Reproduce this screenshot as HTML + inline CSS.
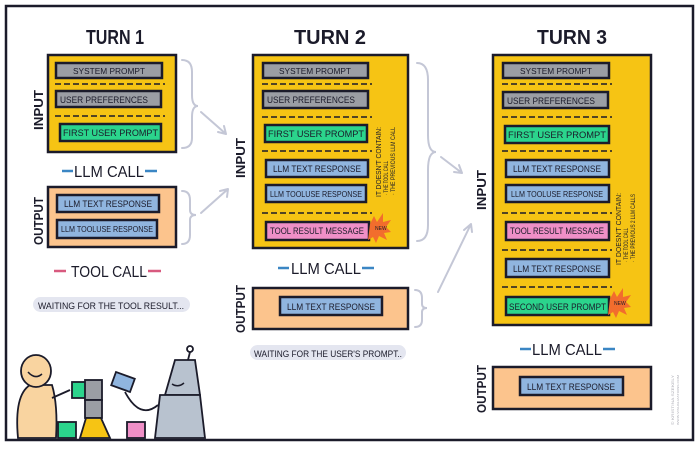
<!DOCTYPE html>
<html><head><meta charset="utf-8"><style>
html,body{margin:0;padding:0;background:#fff;}
svg{display:block;}
text{font-family:"Liberation Sans",sans-serif;fill:#1b1b2a;}
</style></head><body>
<svg width="700" height="449" viewBox="0 0 700 449" xmlns="http://www.w3.org/2000/svg">
<rect x="0" y="0" width="700" height="449" fill="#fff"/>
<rect x="6" y="6" width="687" height="434" fill="none" stroke="#1b1b2a" stroke-width="2.5"/>

<!-- titles -->
<g font-weight="bold">
<text x="115" y="44" font-size="20" text-anchor="middle" textLength="58" lengthAdjust="spacingAndGlyphs">TURN 1</text>
<text x="330" y="44" font-size="20" text-anchor="middle" textLength="72" lengthAdjust="spacingAndGlyphs">TURN 2</text>
<text x="572" y="44" font-size="20" text-anchor="middle" textLength="70" lengthAdjust="spacingAndGlyphs">TURN 3</text>
</g>

<g font-size="9.5" font-weight="normal">
<!-- TURN 1 input -->
<rect x="48" y="55" width="128" height="97" fill="#f6c414" stroke="#1b1b2a" stroke-width="2.5"/>
<rect x="56" y="63" width="106" height="15" fill="#9b9ea4" stroke="#1b1b2a" stroke-width="2.5"/>
<text x="109" y="74" text-anchor="middle" font-size="8" textLength="72" lengthAdjust="spacingAndGlyphs">SYSTEM PROMPT</text>
<line x1="55" y1="84" x2="165" y2="84" stroke="#1b1b2a" stroke-width="1.5" stroke-dasharray="6,3"/>
<rect x="56" y="91" width="105" height="16" fill="#9b9ea4" stroke="#1b1b2a" stroke-width="2.5"/>
<text x="60" y="103" textLength="88" lengthAdjust="spacingAndGlyphs">USER PREFERENCES</text>
<line x1="55" y1="116" x2="165" y2="116" stroke="#1b1b2a" stroke-width="1.5" stroke-dasharray="6,3"/>
<rect x="60" y="124" width="101" height="17" fill="#2bd48c" stroke="#1b1b2a" stroke-width="2.5"/>
<text x="63" y="136" textLength="95" lengthAdjust="spacingAndGlyphs">FIRST USER PROMPT</text>

<text x="109" y="177" font-size="16" text-anchor="middle" textLength="70" lengthAdjust="spacingAndGlyphs">LLM CALL</text>
<line x1="62" y1="171" x2="73" y2="171" stroke="#3b86c4" stroke-width="2.5"/>
<line x1="145" y1="171" x2="157" y2="171" stroke="#3b86c4" stroke-width="2.5"/>

<rect x="48" y="187" width="128" height="60" fill="#fcc48d" stroke="#1b1b2a" stroke-width="2.5"/>
<rect x="57" y="195" width="102" height="17" fill="#90b5df" stroke="#1b1b2a" stroke-width="2.5"/>
<text x="108" y="207" text-anchor="middle" textLength="88" lengthAdjust="spacingAndGlyphs">LLM TEXT RESPONSE</text>
<rect x="57" y="220" width="100" height="18" fill="#90b5df" stroke="#1b1b2a" stroke-width="2.5"/>
<text x="107" y="232" text-anchor="middle" font-size="8.5" textLength="92" lengthAdjust="spacingAndGlyphs">LLM TOOLUSE RESPONSE</text>

<text x="109" y="277" font-size="16" text-anchor="middle" textLength="76" lengthAdjust="spacingAndGlyphs">TOOL CALL</text>
<line x1="54" y1="271" x2="66" y2="271" stroke="#d85a7f" stroke-width="2.5"/>
<line x1="148" y1="271" x2="161" y2="271" stroke="#d85a7f" stroke-width="2.5"/>

<rect x="33" y="297" width="157" height="15" rx="7.5" fill="#e4e6f0"/>
<text x="38" y="309" font-size="9" textLength="146" lengthAdjust="spacingAndGlyphs">WAITING FOR THE TOOL RESULT...</text>

<!-- TURN 2 -->
<rect x="253" y="55" width="155" height="193" fill="#f6c414" stroke="#1b1b2a" stroke-width="2.5"/>
<rect x="263" y="63" width="105" height="15" fill="#9b9ea4" stroke="#1b1b2a" stroke-width="2.5"/>
<text x="315" y="74" text-anchor="middle" font-size="8" textLength="72" lengthAdjust="spacingAndGlyphs">SYSTEM PROMPT</text>
<line x1="262" y1="84" x2="372" y2="84" stroke="#1b1b2a" stroke-width="1.5" stroke-dasharray="6,3"/>
<rect x="263" y="91" width="105" height="17" fill="#9b9ea4" stroke="#1b1b2a" stroke-width="2.5"/>
<text x="267" y="103" textLength="88" lengthAdjust="spacingAndGlyphs">USER PREFERENCES</text>
<line x1="262" y1="117" x2="372" y2="117" stroke="#1b1b2a" stroke-width="1.5" stroke-dasharray="6,3"/>
<rect x="265" y="125" width="102" height="17" fill="#2bd48c" stroke="#1b1b2a" stroke-width="2.5"/>
<text x="268" y="137" textLength="96" lengthAdjust="spacingAndGlyphs">FIRST USER PROMPT</text>
<line x1="262" y1="151" x2="372" y2="151" stroke="#1b1b2a" stroke-width="1.5" stroke-dasharray="6,3"/>
<rect x="266" y="160" width="102" height="17" fill="#90b5df" stroke="#1b1b2a" stroke-width="2.5"/>
<text x="317" y="172" text-anchor="middle" textLength="88" lengthAdjust="spacingAndGlyphs">LLM TEXT RESPONSE</text>
<rect x="266" y="185" width="100" height="17" fill="#90b5df" stroke="#1b1b2a" stroke-width="2.5"/>
<text x="316" y="197" text-anchor="middle" font-size="8.5" textLength="92" lengthAdjust="spacingAndGlyphs">LLM TOOLUSE RESPONSE</text>
<line x1="262" y1="213" x2="372" y2="213" stroke="#1b1b2a" stroke-width="1.5" stroke-dasharray="6,3"/>
<rect x="266" y="222" width="103" height="18" fill="#ef8fc7" stroke="#1b1b2a" stroke-width="2.5"/>
<text x="270" y="234" textLength="94" lengthAdjust="spacingAndGlyphs">TOOL RESULT MESSAGE</text>
<polygon points="370,224 374,216 377,222 383,213 383,222 391,220 386,227 391,232 384,233 387,240 379,236 376,243 373,237 368,240" fill="#f26d2d"/>
<text x="375" y="230" font-size="5" fill="#1b1b2a">NEW</text>
<text transform="translate(381,197) rotate(-90)" font-size="7" textLength="70" lengthAdjust="spacingAndGlyphs">IT DOESN'T CONTAIN:</text>
<text transform="translate(388,195) rotate(-90)" font-size="6" textLength="34" lengthAdjust="spacingAndGlyphs">· THE TOOL CALL</text>
<text transform="translate(395,195) rotate(-90)" font-size="6" textLength="68" lengthAdjust="spacingAndGlyphs">· THE PREVIOUS LLM CALL</text>

<text x="326" y="274" font-size="16" text-anchor="middle" textLength="70" lengthAdjust="spacingAndGlyphs">LLM CALL</text>
<line x1="278" y1="268" x2="289" y2="268" stroke="#3b86c4" stroke-width="2.5"/>
<line x1="362" y1="268" x2="374" y2="268" stroke="#3b86c4" stroke-width="2.5"/>

<rect x="253" y="288" width="155" height="41" fill="#fcc48d" stroke="#1b1b2a" stroke-width="2.5"/>
<rect x="280" y="297" width="102" height="18" fill="#90b5df" stroke="#1b1b2a" stroke-width="2.5"/>
<text x="331" y="310" text-anchor="middle" textLength="88" lengthAdjust="spacingAndGlyphs">LLM TEXT RESPONSE</text>

<rect x="250" y="345" width="156" height="15" rx="7.5" fill="#e4e6f0"/>
<text x="254" y="357" font-size="9" textLength="148" lengthAdjust="spacingAndGlyphs">WAITING FOR THE USER'S PROMPT..</text>

<!-- TURN 3 -->
<rect x="493" y="55" width="158" height="270" fill="#f6c414" stroke="#1b1b2a" stroke-width="2.5"/>
<rect x="503" y="63" width="106" height="15" fill="#9b9ea4" stroke="#1b1b2a" stroke-width="2.5"/>
<text x="556" y="74" text-anchor="middle" font-size="8" textLength="72" lengthAdjust="spacingAndGlyphs">SYSTEM PROMPT</text>
<line x1="502" y1="84" x2="612" y2="84" stroke="#1b1b2a" stroke-width="1.5" stroke-dasharray="6,3"/>
<rect x="503" y="92" width="105" height="16" fill="#9b9ea4" stroke="#1b1b2a" stroke-width="2.5"/>
<text x="507" y="104" textLength="88" lengthAdjust="spacingAndGlyphs">USER PREFERENCES</text>
<line x1="502" y1="117" x2="612" y2="117" stroke="#1b1b2a" stroke-width="1.5" stroke-dasharray="6,3"/>
<rect x="505" y="126" width="104" height="17" fill="#2bd48c" stroke="#1b1b2a" stroke-width="2.5"/>
<text x="508" y="138" textLength="98" lengthAdjust="spacingAndGlyphs">FIRST USER PROMPT</text>
<line x1="502" y1="151" x2="612" y2="151" stroke="#1b1b2a" stroke-width="1.5" stroke-dasharray="6,3"/>
<rect x="506" y="160" width="103" height="17" fill="#90b5df" stroke="#1b1b2a" stroke-width="2.5"/>
<text x="557" y="172" text-anchor="middle" textLength="88" lengthAdjust="spacingAndGlyphs">LLM TEXT RESPONSE</text>
<rect x="506" y="185" width="103" height="17" fill="#90b5df" stroke="#1b1b2a" stroke-width="2.5"/>
<text x="557" y="197" text-anchor="middle" font-size="8.5" textLength="92" lengthAdjust="spacingAndGlyphs">LLM TOOLUSE RESPONSE</text>
<line x1="502" y1="213" x2="612" y2="213" stroke="#1b1b2a" stroke-width="1.5" stroke-dasharray="6,3"/>
<rect x="506" y="222" width="103" height="18" fill="#ef8fc7" stroke="#1b1b2a" stroke-width="2.5"/>
<text x="510" y="234" textLength="94" lengthAdjust="spacingAndGlyphs">TOOL RESULT MESSAGE</text>
<line x1="502" y1="250" x2="612" y2="250" stroke="#1b1b2a" stroke-width="1.5" stroke-dasharray="6,3"/>
<rect x="506" y="259" width="103" height="18" fill="#90b5df" stroke="#1b1b2a" stroke-width="2.5"/>
<text x="557" y="272" text-anchor="middle" textLength="88" lengthAdjust="spacingAndGlyphs">LLM TEXT RESPONSE</text>
<line x1="502" y1="287" x2="612" y2="287" stroke="#1b1b2a" stroke-width="1.5" stroke-dasharray="6,3"/>
<rect x="506" y="297" width="103" height="18" fill="#2bd48c" stroke="#1b1b2a" stroke-width="2.5"/>
<text x="509" y="310" textLength="97" lengthAdjust="spacingAndGlyphs">SECOND USER PROMPT</text>
<polygon points="610,299 614,291 617,297 623,288 623,297 631,295 626,302 631,307 624,308 627,315 619,311 616,318 613,312 608,315" fill="#f26d2d"/>
<text x="614" y="305" font-size="5">NEW</text>
<text transform="translate(621,265) rotate(-90)" font-size="7" textLength="72" lengthAdjust="spacingAndGlyphs">IT DOESN'T CONTAIN:</text>
<text transform="translate(628,262) rotate(-90)" font-size="6" textLength="34" lengthAdjust="spacingAndGlyphs">· THE TOOL CALL</text>
<text transform="translate(635,262) rotate(-90)" font-size="6" textLength="68" lengthAdjust="spacingAndGlyphs">· THE PREVIOUS 2 LLM CALLS</text>

<text x="567" y="355" font-size="16" text-anchor="middle" textLength="70" lengthAdjust="spacingAndGlyphs">LLM CALL</text>
<line x1="520" y1="349" x2="531" y2="349" stroke="#3b86c4" stroke-width="2.5"/>
<line x1="603" y1="349" x2="615" y2="349" stroke="#3b86c4" stroke-width="2.5"/>

<rect x="493" y="367" width="158" height="42" fill="#fcc48d" stroke="#1b1b2a" stroke-width="2.5"/>
<rect x="520" y="377" width="103" height="18" fill="#90b5df" stroke="#1b1b2a" stroke-width="2.5"/>
<text x="571" y="390" text-anchor="middle" textLength="88" lengthAdjust="spacingAndGlyphs">LLM TEXT RESPONSE</text>

<text transform="translate(674,425) rotate(-90)" font-size="4" style="fill:#b0b0b8" textLength="50" lengthAdjust="spacingAndGlyphs">© KRISTINA SZEKELY</text>
<text transform="translate(679,425) rotate(-90)" font-size="3" style="fill:#b0b0b8" textLength="50" lengthAdjust="spacingAndGlyphs">WWW.VISUALIZATIONS.COM</text>
</g>

<!-- vertical INPUT/OUTPUT labels -->
<g font-size="13" font-weight="bold">
<text transform="translate(43,130) rotate(-90)" textLength="40" lengthAdjust="spacingAndGlyphs">INPUT</text>
<text transform="translate(43,245) rotate(-90)" textLength="48" lengthAdjust="spacingAndGlyphs">OUTPUT</text>
<text transform="translate(245,178) rotate(-90)" textLength="40" lengthAdjust="spacingAndGlyphs">INPUT</text>
<text transform="translate(245,333) rotate(-90)" textLength="48" lengthAdjust="spacingAndGlyphs">OUTPUT</text>
<text transform="translate(486,210) rotate(-90)" textLength="40" lengthAdjust="spacingAndGlyphs">INPUT</text>
<text transform="translate(486,413) rotate(-90)" textLength="48" lengthAdjust="spacingAndGlyphs">OUTPUT</text>
</g>

<!-- braces & arrows -->
<g fill="none" stroke="#c4c7d6" stroke-width="2" stroke-linecap="round">
<path d="M182,60 Q192,60 192,72 L192,95 Q192,106 198,106 Q192,106 192,117 L192,138 Q192,148 182,148"/>
<path d="M182,191 Q190,191 190,200 L190,210 Q190,215 196,215 Q190,215 190,220 L190,235 Q190,244 182,244"/>
<path d="M201,112 L226,134 M226,134 L218,132 M226,134 L224,126"/>
<path d="M201,213 L228,189 M228,189 L220,191 M228,189 L227,197"/>
<path d="M417,63 Q428,63 428,80 L428,135 Q428,152 436,152 Q428,152 428,170 L428,225 Q428,241 417,241"/>
<path d="M415,290 Q422,290 422,298 L422,304 Q422,308 427,308 Q422,308 422,312 L422,320 Q422,327 415,327"/>
<path d="M441,157 L462,173 M462,173 L454,172 M462,173 L459,165"/>
<path d="M438,292 L471,224 M471,224 L464,230 M471,224 L472,232"/>
</g>

<!-- characters -->
<g stroke="#1b1b2a" stroke-width="1.8">
<path d="M18,438 Q14,395 30,385 L52,385 Q58,405 56,438 Z" fill="#f9d4a0"/>
<ellipse cx="36" cy="371" rx="15" ry="16" fill="#f9d4a0"/>
<path d="M52,398 L70,390" fill="none"/>
<rect x="72" y="382" width="20" height="16" fill="#2bd48c"/>
<rect x="58" y="422" width="18" height="16" fill="#2bd48c"/>
<rect x="85" y="380" width="17" height="20" fill="#9b9ea4"/>
<rect x="85" y="400" width="17" height="18" fill="#9b9ea4"/>
<path d="M80,438 L86,418 L101,418 L110,438 Z" fill="#f6c414"/>
<rect x="127" y="422" width="18" height="16" fill="#ef8fc7"/>
<rect x="113" y="375" width="20" height="14" fill="#90b5df" transform="rotate(20 123 382)"/>
<path d="M125,392 Q140,420 158,405" fill="none"/>
<path d="M175,360 L195,360 L200,395 L165,395 Z" fill="#b8c2cf"/>
<path d="M160,395 L200,395 L205,438 L155,438 Z" fill="#b8c2cf"/>
<line x1="188" y1="360" x2="190" y2="352"/>
<circle cx="190" cy="349" r="3" fill="#fff"/>
</g>
<path d="M28,372 Q35,380 42,374" fill="none" stroke="#1b1b2a" stroke-width="1.5"/>
<path d="M172,384 Q178,388 184,383" fill="none" stroke="#1b1b2a" stroke-width="1.5"/>
</svg>
</body></html>
